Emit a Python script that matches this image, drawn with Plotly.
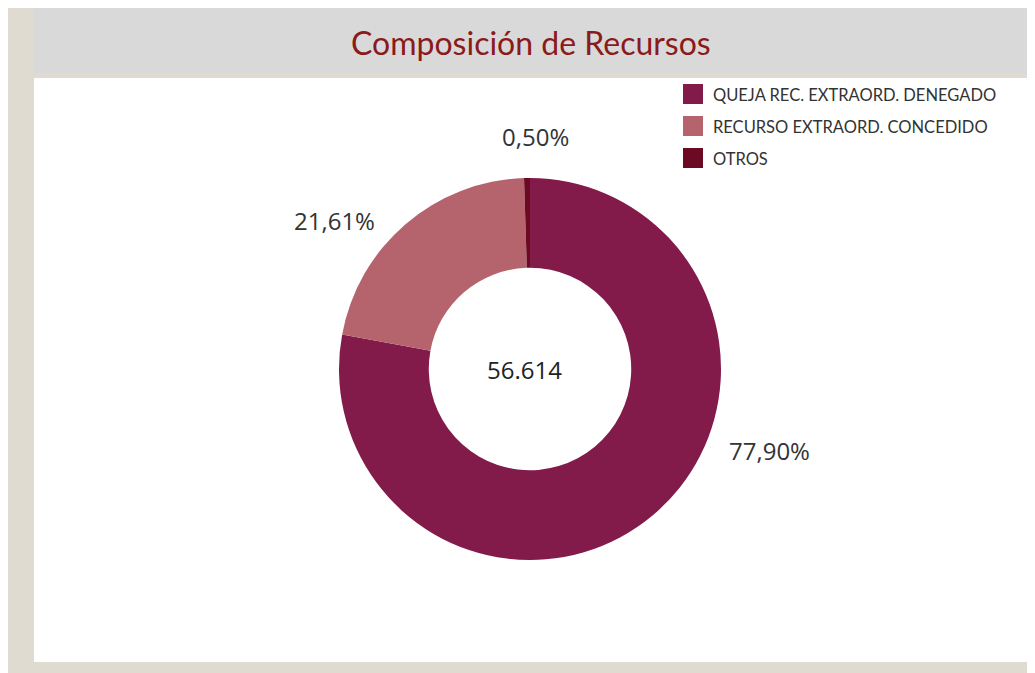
import plotly.graph_objects as go

# ---- data ----
categories = ["QUEJA REC. EXTRAORD. DENEGADO", "RECURSO EXTRAORD. CONCEDIDO", "OTROS"]
values = [44100, 12232, 282]
colors = ["#821a4a", "#b5646d", "#6b0a22"]
title_text = "Composición de Recursos"

# page body has an 8px default margin; the figure fills the rest of the window
OFF = 8
W, H = 1035 - OFF, 673 - OFF

def px(x):
    return (x - OFF) / W

def py(y):
    return 1 - (y - OFF) / H

total = sum(values)
total_txt = f"{total:,}".replace(",", ".")
pcts = [v / total * 100 for v in values]
pct_txt = [f"{p:.2f}%".replace(".", ",") for p in pcts]

# donut geometry (window pixels)
cx, cy, r = 530, 369, 191

fig = go.Figure()
fig.add_trace(go.Pie(
    labels=categories,
    values=values,
    marker=dict(colors=colors, line=dict(width=0)),
    hole=0.53,
    sort=False,
    direction="clockwise",
    rotation=0,
    textinfo="none",
    showlegend=False,
    domain=dict(x=[px(cx - r), px(cx + r)], y=[py(cy + r), py(cy - r)]),
))

shapes = [
    dict(type="rect", xref="paper", yref="paper", x0=0, x1=1, y0=0, y1=1,
         fillcolor="#dfdbd1", line=dict(width=0), layer="below"),
    dict(type="rect", xref="paper", yref="paper", x0=px(33), x1=px(1027), y0=py(73), y1=1,
         fillcolor="#d9d9d9", line=dict(width=0), layer="below"),
    dict(type="rect", xref="paper", yref="paper", x0=px(34), x1=px(1027), y0=py(662), y1=py(78),
         fillcolor="#ffffff", line=dict(width=0), layer="below"),
]

annotations = [
    dict(text=title_text, x=px(531), y=py(43), xref="paper", yref="paper",
         showarrow=False, xanchor="center", yanchor="middle",
         font=dict(family="Lato", size=32, color="#8a1a1c")),
    dict(text=total_txt, x=px(524), y=py(370), xref="paper", yref="paper",
         showarrow=False, xanchor="center", yanchor="middle",
         font=dict(family="Open Sans", size=24, color="#222222")),
]

label_pos = [(769, 450), (334, 221), (535, 136)]
for t, (lx, ly) in zip(pct_txt, label_pos):
    annotations.append(dict(text=t, x=px(lx), y=py(ly), xref="paper", yref="paper",
                            showarrow=False, xanchor="center", yanchor="middle",
                            font=dict(family="Open Sans", size=24, color="#333333")))

# legend drawn with shapes + text
for i, (cat, col) in enumerate(zip(categories, colors)):
    y0 = 84 + 32 * i
    shapes.append(dict(type="rect", xref="paper", yref="paper",
                       x0=px(683), x1=px(703), y0=py(y0 + 20), y1=py(y0),
                       fillcolor=col, line=dict(width=0)))
    annotations.append(dict(text=cat, x=px(711), y=py(y0 + 11), xref="paper", yref="paper",
                            showarrow=False, xanchor="left", yanchor="middle",
                            font=dict(family="Lato", size=16.5, color="#333333")))

fig.update_layout(
    width=W, height=H,
    margin=dict(l=0, r=0, t=0, b=0),
    paper_bgcolor="#ffffff",
    plot_bgcolor="#ffffff",
    shapes=shapes,
    annotations=annotations,
    separators=",.",
)

fig.write_html("out.html")
